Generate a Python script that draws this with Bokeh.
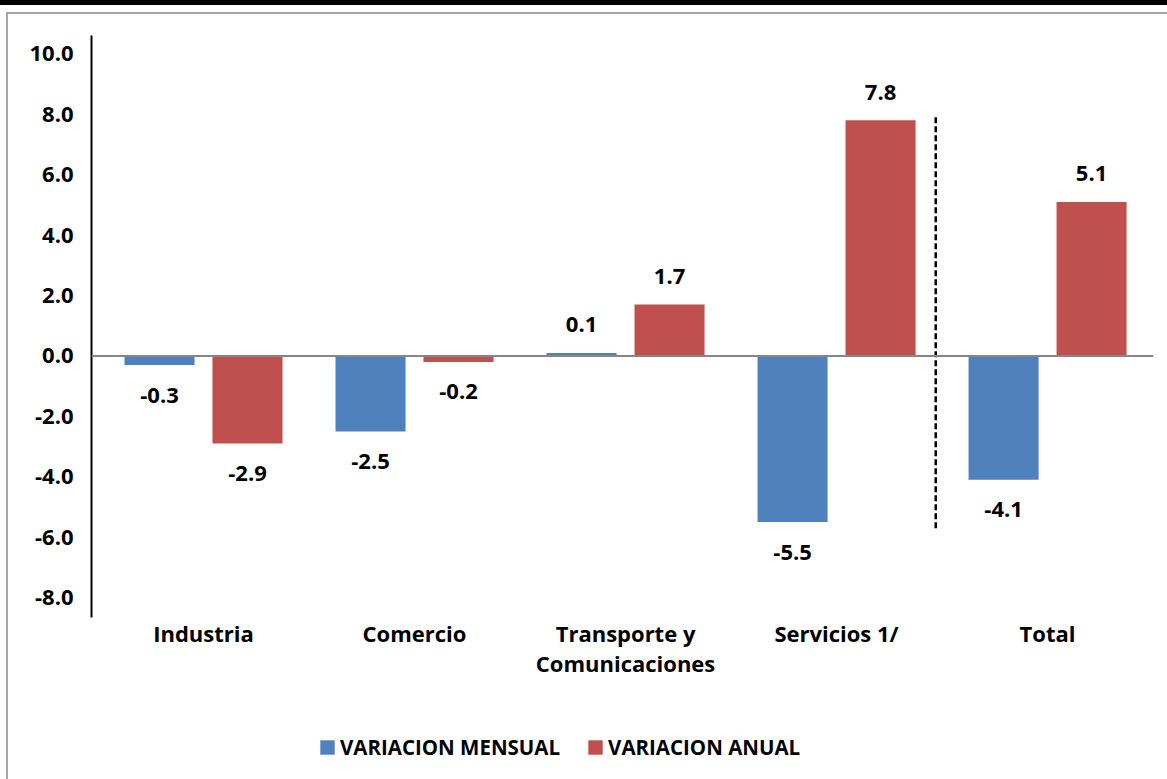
from bokeh.plotting import figure
from bokeh.layouts import column
from bokeh.models import (ColumnDataSource, Range1d, FixedTicker, PrintfTickFormatter, Span,
                          Legend, LegendItem)
from bokeh.transform import dodge
from bokeh.core.properties import value
from bokeh.embed import file_html
from bokeh.resources import INLINE

# ---- data ----
categories = ["Industria", "Comercio", "Transporte y\nComunicaciones", "Servicios 1/", "Total"]
mensual = [-0.3, -2.5, 0.1, -5.5, -4.1]
anual = [-2.9, -0.2, 1.7, 7.8, 5.1]
series_names = ["VARIACION MENSUAL", "VARIACION ANUAL"]
y_ticks = [-8, -6, -4, -2, 0, 2, 4, 6, 8, 10]

# ---- style ----
COLORS = ["#4F81BD", "#C0504D"]
FONT = "Open Sans"
FS = "22px"
BAR_W = 0.332
OFF = 0.2085
SEP_X = 3.47          # separator between "Servicios 1/" and "Total"
SEP_Y = (7.9, -5.8)
GRAY = "#A6A6A6"

xs = list(range(len(categories)))
src = ColumnDataSource(dict(
    x=xs, m=mensual, a=anual,
    ml=["%.1f" % v for v in mensual], al=["%.1f" % v for v in anual],
    mo=[-28 if v >= 0 else 30 for v in mensual],
    ao=[-28 if v >= 0 else 30 for v in anual],
))

H1 = 690
p = figure(width=1167, height=H1, output_backend="svg", toolbar_location=None,
           x_range=Range1d(-0.5308, 4.502), y_range=Range1d(-8.66, 10.61),
           min_border_left=91, min_border_right=14, min_border_top=35, min_border_bottom=H1 - 617)
p.outline_line_color = None
p.border_fill_color = None
p.xgrid.visible = False
p.ygrid.visible = False
p.styles = {
    "background-image": "linear-gradient(#000,#000), linear-gradient(%s,%s), linear-gradient(%s,%s)" % (GRAY, GRAY, GRAY, GRAY),
    "background-size": "100% 5px, 100% 2px, 2px 100%",
    "background-position": "0px 0px, 6px 12px, 6px 12px",
    "background-repeat": "no-repeat",
}

p.add_layout(Span(location=0, dimension="width", line_color="#868686", line_width=2))

p.vbar(x=dodge("x", -OFF), top="m", bottom=0, width=BAR_W, source=src,
       fill_color=COLORS[0], line_color=None)
p.vbar(x=dodge("x", OFF), top="a", bottom=0, width=BAR_W, source=src,
       fill_color=COLORS[1], line_color=None)

p.text(x=dodge("x", -OFF), y="m", text="ml", y_offset="mo", source=src,
       text_align="center", text_baseline="middle", text_font=value(FONT),
       text_font_style="bold", text_font_size=FS, text_color="black")
p.text(x=dodge("x", OFF), y="a", text="al", y_offset="ao", source=src,
       text_align="center", text_baseline="middle", text_font=value(FONT),
       text_font_style="bold", text_font_size=FS, text_color="black")

p.segment(x0=SEP_X, y0=SEP_Y[0], x1=SEP_X, y1=SEP_Y[1], line_color="black",
          line_width=2.5, line_dash="6 3")

# axes
ya = p.yaxis[0]
ya.ticker = FixedTicker(ticks=y_ticks)
ya.formatter = PrintfTickFormatter(format="%.1f")
ya.major_tick_out = 0
ya.major_tick_in = 0
ya.minor_tick_out = 0
ya.minor_tick_in = 0
ya.axis_line_color = "black"
ya.axis_line_width = 2
ya.major_label_standoff = 18
ya.major_label_text_font = FONT
ya.major_label_text_font_style = "bold"
ya.major_label_text_font_size = FS
ya.major_label_text_color = "black"

xa = p.xaxis[0]
xa.ticker = FixedTicker(ticks=xs)
xa.major_label_overrides = {i: c for i, c in zip(xs, categories)}
xa.axis_line_color = None
xa.major_tick_out = 0
xa.major_tick_in = 0
xa.minor_tick_out = 0
xa.minor_tick_in = 0
xa.major_label_standoff = 0
xa.major_label_text_font = FONT
xa.major_label_text_font_style = "bold"
xa.major_label_text_font_size = FS
xa.major_label_text_color = "black"
xa.major_label_text_line_height = 1.0

# ---- legend strip ----
H2 = 779 - H1
p2 = figure(width=1167, height=H2, output_backend="svg", toolbar_location=None,
            x_axis_type=None, y_axis_type=None, x_range=Range1d(0, 1), y_range=Range1d(0, 1),
            min_border=0, min_border_left=0, min_border_right=0, min_border_top=0, min_border_bottom=0)
p2.outline_line_color = None
p2.border_fill_color = None
p2.background_fill_color = None
p2.grid.visible = False
p2.styles = {
    "background-image": "linear-gradient(%s,%s)" % (GRAY, GRAY),
    "background-size": "2px 100%",
    "background-position": "6px 0px",
    "background-repeat": "no-repeat",
}
l1 = p2.vbar(x="x", top="m", width=BAR_W, source=src, fill_color=COLORS[0], line_color=None, visible=False)
l2 = p2.vbar(x="x", top="a", width=BAR_W, source=src, fill_color=COLORS[1], line_color=None, visible=False)

lg = Legend(items=[LegendItem(label=series_names[0], renderers=[l1]),
                   LegendItem(label=series_names[1], renderers=[l2])],
            location=(227, 18), orientation="horizontal")
lg.glyph_width = 18
lg.glyph_height = 18
lg.label_standoff = 4
lg.spacing = 26
lg.padding = 0
lg.margin = 0
lg.border_line_color = None
lg.background_fill_alpha = 0
lg.label_text_font = FONT
lg.label_text_font_style = "bold"
lg.label_text_font_size = "20.5px"
lg.label_text_color = "black"
p2.add_layout(lg)

layout = column(p, p2, spacing=0)
open("out.html", "w").write(file_html(layout, INLINE))
